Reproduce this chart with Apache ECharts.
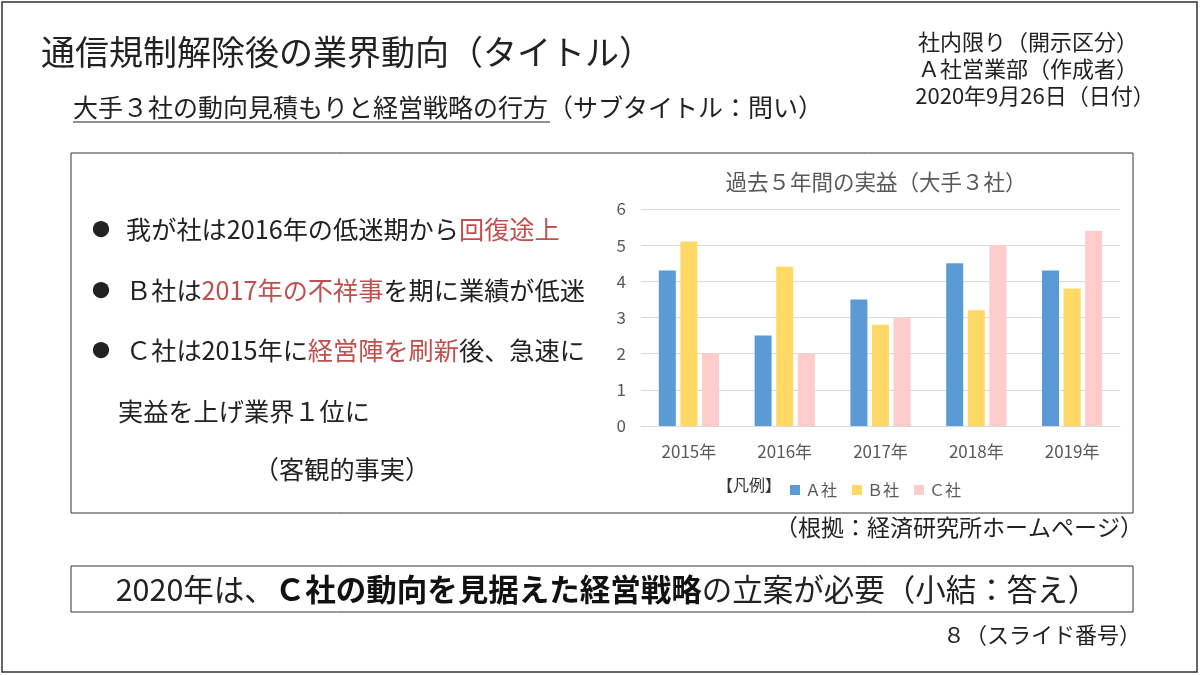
<!DOCTYPE html>
<html>
<head>
<meta charset="utf-8">
<title>通信規制解除後の業界動向</title>
<script src="https://cdn.jsdelivr.net/npm/echarts@6/dist/echarts.min.js"></script>
<style>
    html, body { margin: 0; padding: 0; background: #fff; }
    #main { width: 1200px; height: 675px; }
</style>
</head>
<body>
<div id="main"></div>
<script>
// データ
var years = ['2015年', '2016年', '2017年', '2018年', '2019年'];
var seriesNames = ['Ａ社', 'Ｂ社', 'Ｃ社'];
var companyA = [4.3, 2.5, 3.5, 4.5, 4.3];
var companyB = [5.1, 4.4, 2.8, 3.2, 3.8];
var companyC = [2.0, 2.0, 3.0, 5.0, 5.4];
var yMin = 0, yMax = 6, yStep = 1;

var FONT = '"Noto Sans CJK JP", "Noto Sans", sans-serif';
var INK = '#222';
var RED = '#C0504D';
var GRAY = '#595959';

// テキスト部品
function txt(x, y, text, size, opt) {
    opt = opt || {};
    return {
        type: 'text',
        x: x,
        y: y,
        style: {
            text: text,
            fill: opt.color || INK,
            fontFamily: FONT,
            fontSize: size,
            fontWeight: opt.weight || 'normal',
            textAlign: opt.align || 'left',
            textVerticalAlign: 'middle',
            rich: opt.rich
        }
    };
}

function box(x, y, w, h, lw) {
    return {
        type: 'rect',
        shape: { x: x, y: y, width: w, height: h },
        style: { fill: 'none', stroke: '#333', lineWidth: lw || 1 }
    };
}

var redRich = { r: { fill: RED, fontSize: 25.2, fontFamily: FONT } };

var chart = echarts.init(document.getElementById('main'));

var option = {
    backgroundColor: '#fff',
    animation: false,
    textStyle: { fontFamily: FONT },
    color: ['#5B9BD5', '#FFD966', '#FFCCCC'],
    grid: { left: 641, top: 209, width: 479, height: 217, containLabel: false },
    legend: {
        data: seriesNames,
        left: 785,
        top: 477,
        icon: 'rect',
        itemWidth: 10,
        itemHeight: 10,
        itemGap: 15,
        textStyle: { color: GRAY, fontSize: 16, fontFamily: FONT }
    },
    xAxis: {
        type: 'category',
        data: years,
        axisLine: { lineStyle: { color: '#d9d9d9' } },
        axisTick: { show: false },
        axisLabel: { color: GRAY, fontSize: 17, margin: 17, fontFamily: FONT }
    },
    yAxis: {
        type: 'value',
        min: yMin,
        max: yMax,
        interval: yStep,
        axisLine: { show: false },
        axisTick: { show: false },
        splitLine: { lineStyle: { color: '#d9d9d9' } },
        axisLabel: { color: GRAY, fontSize: 17, margin: 15, fontFamily: FONT }
    },
    series: [
        { name: seriesNames[0], type: 'bar', data: companyA, barWidth: 17, barGap: '27%' },
        { name: seriesNames[1], type: 'bar', data: companyB, barWidth: 17, barGap: '27%' },
        { name: seriesNames[2], type: 'bar', data: companyC, barWidth: 17, barGap: '27%' }
    ],
    graphic: [
        // 外枠
        box(2, 2, 1195, 670, 1.5),
        txt(41, 52, '通信規制解除後の業界動向（タイトル）', 34),
        txt(73, 107, '大手３社の動向見積もりと経営戦略の行方（サブタイトル：問い）', 25),
        {
            type: 'line',
            shape: { x1: 73, y1: 122, x2: 550, y2: 122 },
            style: { stroke: '#222', lineWidth: 1.2 }
        },
        txt(1028, 42, '社内限り（開示区分）', 22, { align: 'center' }),
        txt(1028, 69, 'Ａ社営業部（作成者）', 22, { align: 'center' }),
        txt(1035, 96, '2020年9月26日（日付）', 22, { align: 'center' }),

        // 本文の枠
        box(71, 153, 1062, 360),
        txt(101, 229, '●', 18, { align: 'center' }),
        txt(126, 229, '我が社は2016年の低迷期から{r|回復途上}', 25.2, { rich: redRich }),
        txt(101, 290, '●', 18, { align: 'center' }),
        txt(126, 290, 'Ｂ社は{r|2017年の不祥事}を期に業績が低迷', 25.2, { rich: redRich }),
        txt(101, 350, '●', 18, { align: 'center' }),
        txt(126, 350, 'Ｃ社は2015年に{r|経営陣を刷新}後、急速に', 25.2, { rich: redRich }),
        txt(118, 411, '実益を上げ業界１位に', 25.2),
        txt(342, 469, '（客観的事実）', 25.2, { align: 'center' }),

        // グラフのタイトルと凡例見出し
        txt(876, 182, '過去５年間の実益（大手３社）', 21.5, { align: 'center', color: GRAY }),
        txt(781, 485, '【凡例】', 16, { align: 'right', color: '#333' }),

        txt(1143, 527, '（根拠：経済研究所ホームページ）', 23, { align: 'right' }),

        // 小結
        box(71, 566, 1062, 46),
        txt(607, 589, '2020年は、{b|Ｃ社の動向を見据えた経営戦略}の立案が必要（小結：答え）', 30.5, {
            align: 'center',
            rich: { b: { fontWeight: 'bold', fontSize: 30.5, fontFamily: FONT, fill: '#111' } }
        }),
        txt(1141, 635, '８（スライド番号）', 22, { align: 'right' })
    ]
};

chart.setOption(option);
</script>
</body>
</html>
